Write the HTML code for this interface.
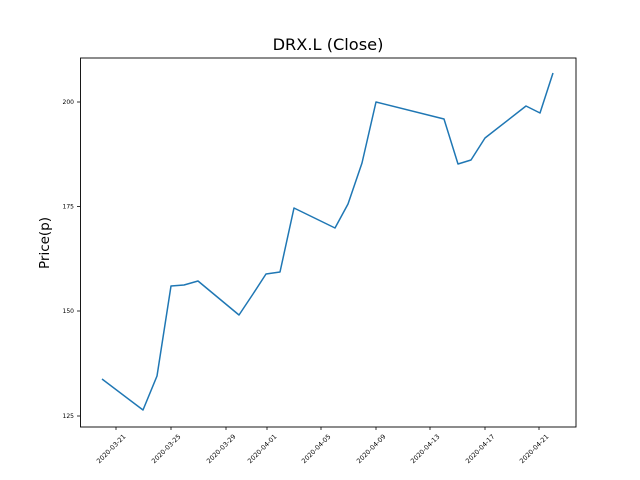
<!DOCTYPE html>
<html><head><style>body{margin:0;background:#fff}svg{display:block}</style></head><body>
<svg width="640" height="480" xmlns="http://www.w3.org/2000/svg" font-family="DejaVu Sans, Liberation Sans, sans-serif">
<rect width="640" height="480" fill="#fff"/>
<text x="328" y="50" font-size="16.2" text-anchor="middle">DRX.L (Close)</text>
<text transform="translate(49,243) rotate(-90)" font-size="13.5" text-anchor="middle">Price(p)</text>
<polyline fill="none" stroke="#1f77b4" stroke-width="1.5" stroke-linejoin="round" points="102,379 143,410 157,376 171,286 184,285 198,281 239,315 253,294 266,274 280,272 294,208 335,228 348,204 362,163 376,102 444,119 458,164 471,160 485,138 526,106 540,113 553,73"/>
<rect x="80.5" y="58" width="495.5" height="369" fill="none" stroke="#000" stroke-width="0.9"/>
<g stroke="#000" stroke-width="0.8">
<line x1="77" y1="416" x2="80" y2="416"/><line x1="77" y1="311" x2="80" y2="311"/><line x1="77" y1="206.5" x2="80" y2="206.5"/><line x1="77" y1="102" x2="80" y2="102"/>
<line x1="116" y1="427" x2="116" y2="430"/><line x1="171" y1="427" x2="171" y2="430"/><line x1="226" y1="427" x2="226" y2="430"/><line x1="267" y1="427" x2="267" y2="430"/><line x1="321" y1="427" x2="321" y2="430"/><line x1="376" y1="427" x2="376" y2="430"/><line x1="430" y1="427" x2="430" y2="430"/><line x1="485" y1="427" x2="485" y2="430"/><line x1="539" y1="427" x2="539" y2="430"/>
</g>
<g font-size="6" text-anchor="end">
<text x="74" y="418">125</text><text x="74" y="313">150</text><text x="74" y="208.5">175</text><text x="74" y="104">200</text>
</g>
<g font-size="6.5" text-anchor="end">
<text transform="translate(126,437) rotate(-45)">2020-03-21</text>
<text transform="translate(181,437) rotate(-45)">2020-03-25</text>
<text transform="translate(236,437) rotate(-45)">2020-03-29</text>
<text transform="translate(277,437) rotate(-45)">2020-04-01</text>
<text transform="translate(331,437) rotate(-45)">2020-04-05</text>
<text transform="translate(386,437) rotate(-45)">2020-04-09</text>
<text transform="translate(440,437) rotate(-45)">2020-04-13</text>
<text transform="translate(495,437) rotate(-45)">2020-04-17</text>
<text transform="translate(549,437) rotate(-45)">2020-04-21</text>
</g>
</svg>
</body></html>
